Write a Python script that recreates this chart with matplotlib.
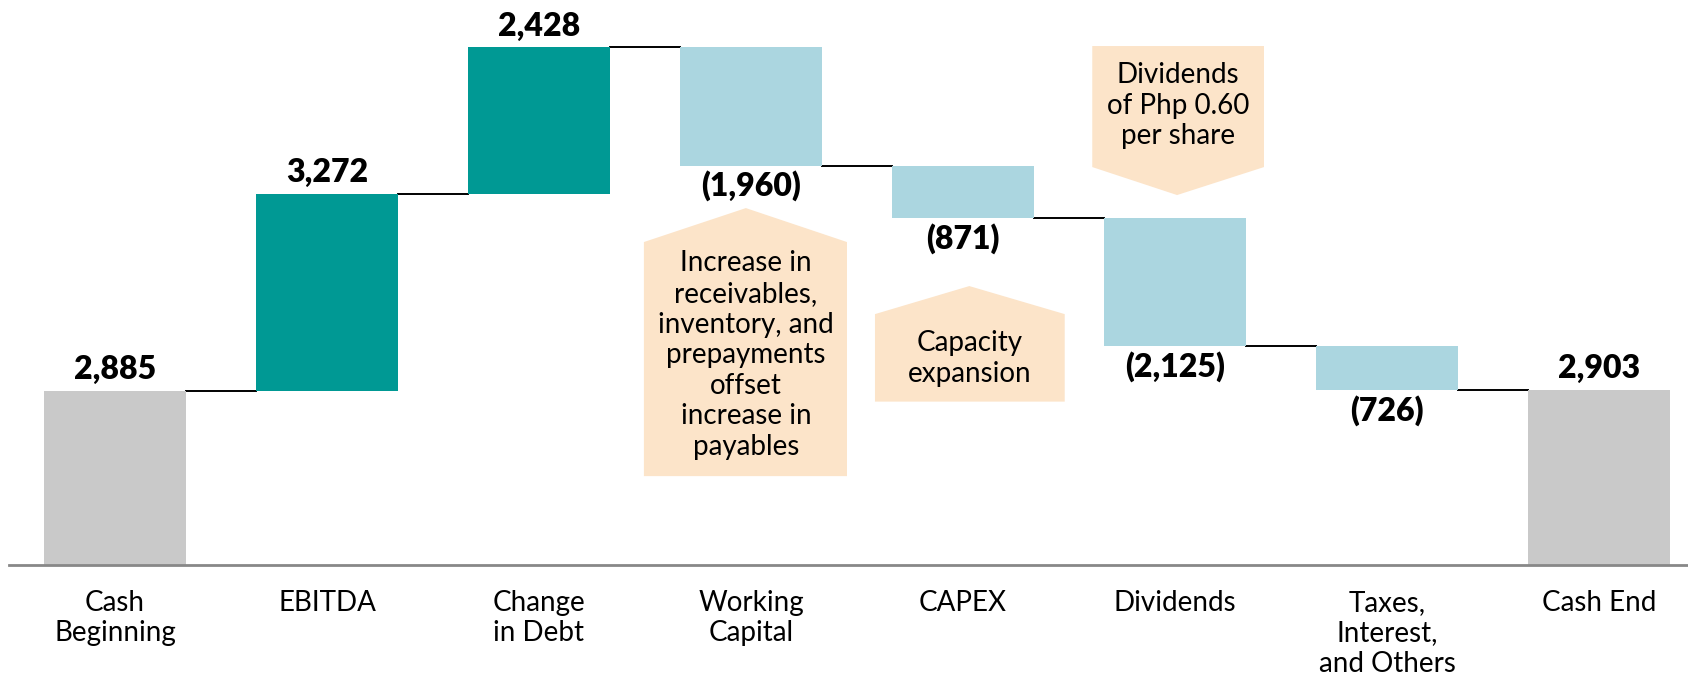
import matplotlib
matplotlib.use("Agg")
import matplotlib.pyplot as plt
from matplotlib.patches import Polygon

plt.rcParams['font.family'] = ['Lato', 'DejaVu Sans']

categories = ["Cash\nBeginning", "EBITDA", "Change\nin Debt", "Working\nCapital",
              "CAPEX", "Dividends", "Taxes,\nInterest,\nand Others", "Cash End"]
values = [2885, 3272, 2428, -1960, -871, -2125, -726, 2903]
kinds = ["total", "up", "up", "down", "down", "down", "down", "total"]
value_labels = ["2,885", "3,272", "2,428", "(1,960)", "(871)", "(2,125)", "(726)", "2,903"]

colors = {"total": "#c9c9c9", "up": "#009994", "down": "#abd6e0"}
peach = "#fce4c9"

fig = plt.figure(figsize=(16.88, 6.76), dpi=100)
ax = fig.add_axes([0.0053, 0.164, 0.9947, 0.836])

bar_w = 0.67
running = 0
bottoms = []
tops = []
for i, (v, k) in enumerate(zip(values, kinds)):
    if k == "total":
        b, t = 0, v
        running = v
    elif v >= 0:
        b, t = running, running + v
        running += v
    else:
        b, t = running + v, running
        running += v
    bottoms.append(b)
    tops.append(t)
    ax.bar(i, t - b, bottom=b, width=bar_w, color=colors[k], zorder=2)
    if v >= 0:
        ax.text(i, t + 110, value_labels[i], ha="center", va="bottom",
                fontsize=23, fontweight="heavy", color="black")
    else:
        ax.text(i, b - 80, value_labels[i], ha="center", va="top",
                fontsize=23, fontweight="heavy", color="black")

# connectors between bars
for i in range(len(values) - 1):
    level = tops[i] if values[i] >= 0 else bottoms[i]
    ax.plot([i + bar_w / 2, i + 1 - bar_w / 2], [level, level], color="black", lw=1.4, zorder=1)

# callout shapes
def callout(pts, text, cx, cy):
    ax.add_patch(Polygon(pts, closed=True, facecolor=peach, edgecolor="none", zorder=1))
    ax.text(cx, cy, text, ha="center", va="center", fontsize=20, linespacing=1.22)

callout([(2.495, 1476), (2.495, 5357), (2.976, 5920), (3.453, 5357), (3.453, 1476)],
        "Increase in\nreceivables,\ninventory, and\nprepayments\noffset\nincrease in\npayables",
        2.976, 3480)
callout([(3.585, 2711), (3.585, 4162), (4.03, 4627), (4.48, 4162), (4.48, 2711)],
        "Capacity\nexpansion", 4.03, 3430)
callout([(4.61, 8607), (5.42, 8607), (5.42, 6600), (5.01, 6136), (4.61, 6600)],
        "Dividends\nof Php 0.60\nper share", 5.015, 7620)

ax.set_xlim(-0.5, 7.42)
ax.set_ylim(0, 9370)
ax.set_xticks(range(len(categories)))
ax.set_xticklabels(categories, fontsize=20, linespacing=1.2, va="top")
ax.tick_params(axis="x", length=0, pad=18)
ax.set_yticks([])
for s in ["top", "right", "left"]:
    ax.spines[s].set_visible(False)
ax.spines["bottom"].set_color("#888888")
ax.spines["bottom"].set_linewidth(2)

fig.savefig("out.png", dpi=100)
